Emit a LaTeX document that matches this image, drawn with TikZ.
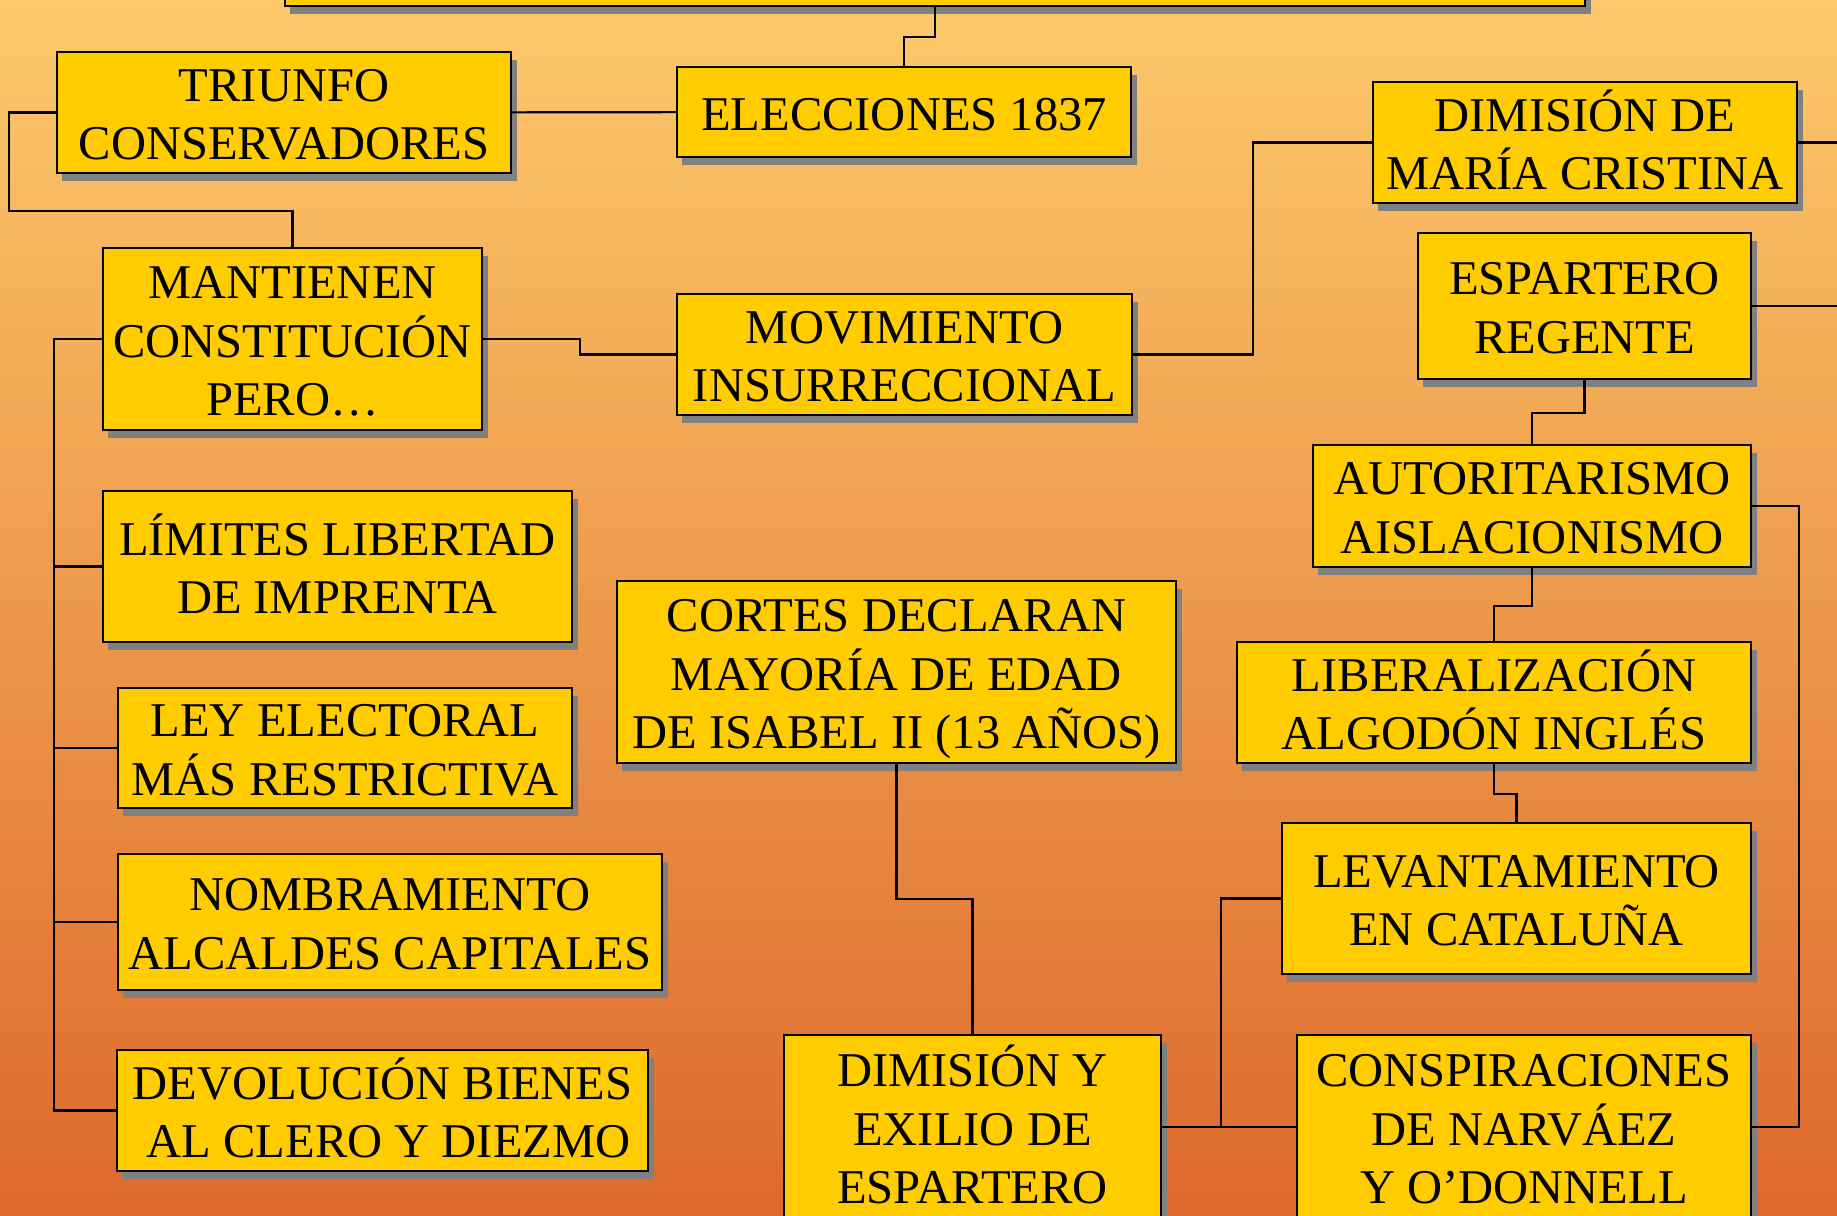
\documentclass[tikz,border=0pt]{standalone}
\usepackage{fontspec}
\setmainfont{Liberation Serif}
\usetikzlibrary{shadows}
\definecolor{caja}{HTML}{FFCC00}
\definecolor{fondoarriba}{HTML}{FDC96B}
\definecolor{fondoabajo}{HTML}{DD692C}
\newcommand{\alto}{\rule{0pt}{13.6pt}}
\tikzset{
  caja/.style={draw, line width=0.6pt, fill=caja, align=center, inner sep=0pt,
    font=\fontsize{13.8pt}{16.7pt}\selectfont,
    execute at end node={\rule[-3.3pt]{0pt}{3.3pt}},
    drop shadow={shadow xshift=0.055cm, shadow yshift=-0.083cm, fill=gray, opacity=1}},
  linea/.style={line width=0.6pt}
}
\begin{document}
\begin{tikzpicture}[x=0.01cm, y=-0.01cm]
    \useasboundingbox (0,0) rectangle (1837,1215);
    \clip (0,0) rectangle (1837,1215);
    \shade[top color=fondoarriba, bottom color=fondoabajo] (0,0) rectangle (1837,1215);
    % cajas
    \node[caja, minimum width=13cm, minimum height=0.56cm] (arriba) at (935,-22) {};
    \node[caja, minimum width=4.54cm, minimum height=1.21cm] (triunfo) at (284,112.5) {\alto TRIUNFO\\CONSERVADORES};
    \node[caja, minimum width=4.54cm, minimum height=0.9cm] (elecciones) at (904,112) {\alto ELECCIONES 1837};
    \node[caja, minimum width=4.24cm, minimum height=1.21cm] (dimision) at (1585,142.5) {\alto DIMISIÓN DE\\MARÍA CRISTINA};
    \node[caja, minimum width=3.33cm, minimum height=1.46cm] (regente) at (1584.5,306) {\alto ESPARTERO\\REGENTE};
    \node[caja, minimum width=3.79cm, minimum height=1.82cm] (mantienen) at (292.5,339) {\alto MANTIENEN\\CONSTITUCIÓN\\PERO…};
    \node[caja, minimum width=4.55cm, minimum height=1.21cm] (movimiento) at (904.5,354.5) {\alto MOVIMIENTO\\INSURRECCIONAL};
    \node[caja, minimum width=4.69cm, minimum height=1.51cm] (limites) at (337.5,566.5) {\alto LÍMITES LIBERTAD\\DE IMPRENTA};
    \node[caja, minimum width=4.54cm, minimum height=1.2cm] (ley) at (345,748) {\alto LEY ELECTORAL\\MÁS RESTRICTIVA};
    \node[caja, minimum width=5.44cm, minimum height=1.36cm] (alcaldes) at (390,922) {\alto NOMBRAMIENTO\\ALCALDES CAPITALES};
    \node[caja, minimum width=5.31cm, minimum height=1.21cm] (devolucion) at (382.5,1110.5) {\alto DEVOLUCIÓN BIENES\\\ AL CLERO Y DIEZMO};
    \node[caja, minimum width=5.59cm, minimum height=1.82cm] (cortes) at (896.5,672) {\alto CORTES DECLARAN\\MAYORÍA DE EDAD\\DE ISABEL II (13 AÑOS)};
    \node[caja, minimum width=4.38cm, minimum height=1.22cm] (autoritarismo) at (1532,506) {\alto AUTORITARISMO\\AISLACIONISMO};
    \node[caja, minimum width=5.14cm, minimum height=1.21cm] (liberalizacion) at (1494,702.5) {\alto LIBERALIZACIÓN\\ALGODÓN INGLÉS};
    \node[caja, minimum width=4.69cm, minimum height=1.51cm] (levantamiento) at (1516.5,898.5) {\alto LEVANTAMIENTO\\EN CATALUÑA};
    \node[caja, minimum width=3.77cm, minimum height=1.84cm] (exilio) at (972.5,1127) {\alto DIMISIÓN Y\\EXILIO DE\\ESPARTERO};
    \node[caja, minimum width=4.54cm, minimum height=1.84cm] (conspiraciones) at (1524,1127) {\alto CONSPIRACIONES\\DE NARVÁEZ\\Y O’DONNELL};
    % conectores
    \draw[linea] (arriba.south) -- ++(0,30) -| (elecciones.north);
    \draw[linea] (triunfo) -- (elecciones);
    \draw[linea] (triunfo.west) -| (9,211) -| (mantienen.north);
    \draw[linea] (mantienen.east) -- ++(97,0) |- (movimiento.west);
    \draw[linea] (movimiento.east) -- ++(120,0) |- (dimision.west);
    \draw[linea] (dimision.east) -- ++(60,0);
    \draw[linea] (regente.east) -- ++(100,0);
    \draw[linea] (regente.south) -- ++(0,33) -| (autoritarismo.north);
    \draw[linea] (autoritarismo.south) -- ++(0,38) -| (liberalizacion.north);
    \draw[linea] (liberalizacion.south) -- ++(0,30) -| (levantamiento.north);
    \draw[linea] (autoritarismo.east) -- ++(47,0) |- (conspiraciones.east);
    \draw[linea] (cortes.south) -- ++(0,135) -| (exilio.north);
    \draw[linea] (exilio) -- (conspiraciones);
    \draw[linea] (levantamiento.west) -- ++(-60,0) |- (conspiraciones.west);
    \foreach \n in {limites,ley,alcaldes,devolucion}
        \draw[linea] (mantienen.west) -- ++(-48,0) |- (\n.west);
\end{tikzpicture}
\end{document}
